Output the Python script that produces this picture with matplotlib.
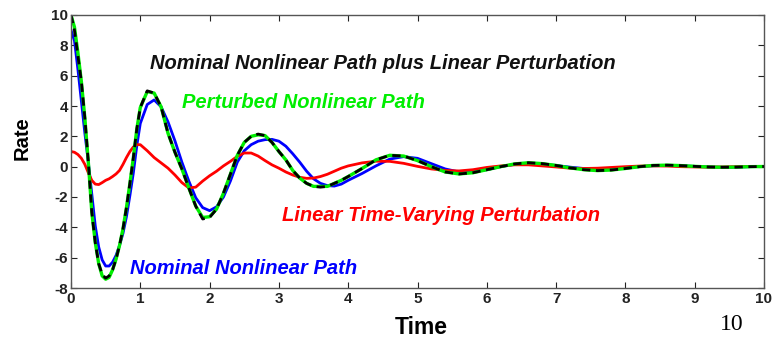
import numpy as np
import matplotlib
matplotlib.use('Agg')
from matplotlib import pyplot as plt

# time grid: fine where the curves swing hard, coarser in the tail
time = np.concatenate([np.linspace(0, 1, 21), np.linspace(1.1, 4.0, 30), np.linspace(4.2, 10, 30)])

nominal = [9.0, 8.3, 6.4, 4.3, 2.2, 0.3, -1.8, -3.9, -5.3, -6.15, -6.55, -6.55, -6.3, -5.85, -5.2, -4.4,
           -3.3, -1.9, -0.4, 1.4, 2.85,
           4.1, 4.4, 3.95, 2.95, 1.7, 0.3, -0.95, -2.05, -2.7, -2.9, -2.65, -2.0, -0.95, 0.3, 1.05,
           1.45, 1.68, 1.78, 1.8, 1.68, 1.35, 0.85, 0.3, -0.3, -0.8, -1.1, -1.25, -1.28, -1.15, -0.9,
           -0.45, 0.05, 0.5, 0.66, 0.55, 0.2, -0.15, -0.35, -0.33, -0.2, 0.0, 0.15, 0.22, 0.18, 0.08,
           -0.03, -0.12, -0.16, -0.14, -0.07, 0.0, 0.06, 0.08, 0.06, 0.02, -0.02, -0.04, -0.03, 0.0, 0.01]

linear = [1.0, 0.95, 0.8, 0.55, 0.15, -0.4, -0.9, -1.15, -1.18, -1.05, -0.9, -0.8, -0.65, -0.48, -0.25, 0.15,
          0.6, 1.0, 1.3, 1.45, 1.45,
          1.05, 0.6, 0.25, -0.1, -0.55, -1.05, -1.4, -1.35, -0.95, -0.6, -0.3, 0.05, 0.35, 0.68, 0.9,
          0.9, 0.7, 0.4, 0.12, -0.1, -0.35, -0.55, -0.7, -0.77, -0.75, -0.65, -0.5, -0.3, -0.1, 0.05,
          0.25, 0.36, 0.35, 0.22, 0.02, -0.15, -0.25, -0.28, -0.2, -0.05, 0.05, 0.12, 0.12, 0.05, -0.02,
          -0.1, -0.12, -0.1, -0.05, 0.0, 0.04, 0.05, 0.04, 0.0, -0.02, -0.03, -0.02, 0.0, 0.01, 0.01]

nom_plus_lin = [10.0, 9.0, 7.3, 5.6, 3.2, 0.3, -3.0, -5.0, -6.4, -7.1, -7.35, -7.2, -6.8, -6.1, -5.2, -4.1,
                -2.7, -1.1, 0.6, 2.5, 3.9,
                5.0, 4.85, 3.95, 2.2, 0.95, -0.15, -1.4, -2.6, -3.45, -3.35, -2.8, -1.75, -0.5, 0.75, 1.6,
                2.0, 2.15, 2.05, 1.6, 1.0, 0.45, -0.25, -0.75, -1.1, -1.3, -1.35, -1.3, -1.1, -0.9, -0.65,
                -0.12, 0.45, 0.75, 0.7, 0.4, 0.0, -0.35, -0.48, -0.4, -0.2, 0.0, 0.18, 0.26, 0.2, 0.08,
                -0.08, -0.2, -0.26, -0.22, -0.12, 0.0, 0.08, 0.1, 0.07, 0.02, -0.02, -0.04, -0.03, 0.0, 0.01]

perturbed = [10.0, 9.2, 7.5, 5.6, 3.2, 0.3, -3.0, -5.0, -6.4, -7.2, -7.42, -7.3, -6.8, -6.1, -5.2, -4.1,
             -2.7, -1.1, 0.6, 2.5, 3.9,
             4.95, 4.85, 3.95, 2.2, 0.95, -0.15, -1.4, -2.6, -3.35, -3.3, -2.8, -1.75, -0.5, 0.75, 1.6,
             2.0, 2.1, 2.05, 1.6, 1.0, 0.45, -0.25, -0.75, -1.1, -1.3, -1.3, -1.3, -1.1, -0.9, -0.65,
             -0.12, 0.45, 0.75, 0.7, 0.4, 0.0, -0.35, -0.48, -0.4, -0.2, 0.0, 0.18, 0.26, 0.2, 0.08,
             -0.08, -0.2, -0.26, -0.22, -0.12, 0.0, 0.08, 0.1, 0.07, 0.02, -0.02, -0.04, -0.03, 0.0, 0.01]

plt.rcParams['font.family'] = ['Liberation Sans', 'DejaVu Sans']
plt.rcParams['axes.unicode_minus'] = False

fig = plt.figure(figsize=(7.74, 3.4), dpi=100)
ax = fig.add_axes([71 / 774, 1 - 288 / 340, 693 / 774, 273 / 340])

lw = 2.0
ax.plot(time, nominal, color='#0000ff', lw=lw)
ax.plot(time, linear, color='#ff0000', lw=lw)
ax.plot(time, perturbed, color='#00ee00', lw=lw + 0.4)
ax.plot(time, nom_plus_lin, color='black', lw=lw, dashes=(3, 2))

ax.set_xlim(0, 10)
ax.set_ylim(-8, 10)
ax.set_xticks(range(0, 11))
ax.set_yticks(range(-8, 11, 2))
ax.tick_params(direction='in', length=4, width=0.8, top=True, right=True, labelsize=11, colors='#222222')
ax.tick_params(axis='x', pad=3)
ax.tick_params(axis='y', pad=2)
for lab in ax.get_xticklabels() + ax.get_yticklabels():
    lab.set_fontweight('bold')
for s in ax.spines.values():
    s.set_color('#555555')
    s.set_linewidth(1.0)

tstyle = dict(fontsize=14.5, fontweight='bold', style='italic', ha='left', va='center')
ax.text(1.14, 6.77, 'Nominal Nonlinear Path plus Linear Perturbation', color='#111111', **tstyle)
ax.text(1.6, 4.2, 'Perturbed Nonlinear Path', color='#00ee00', **tstyle)
ax.text(3.04, -3.25, 'Linear Time-Varying Perturbation', color='#ff0000', **tstyle)
ax.text(0.85, -6.7, 'Nominal Nonlinear Path', color='#0000ff', **tstyle)

fig.text(22 / 774, 1 - 138 / 340, 'Rate', rotation=90, fontsize=14.5, fontweight='bold', ha='center', va='center')
fig.text(421 / 774, 1 - 327 / 340, 'Time', fontsize=16.5, fontweight='bold', ha='center', va='center')
fig.text(732 / 774, 1 - 325 / 340, '10', fontsize=17, family='Liberation Serif', ha='center', va='center')

fig.savefig('out.png', dpi=100)
